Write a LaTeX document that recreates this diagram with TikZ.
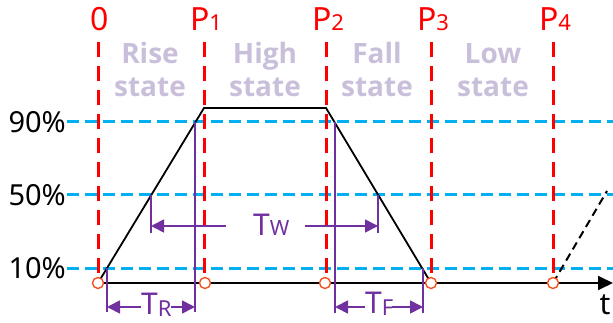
\documentclass[tikz,border=0pt]{standalone}
\usepackage{fontspec}
\setmainfont{Noto Sans}
\newfontfamily\statefont{Open Sans}
\usetikzlibrary{arrows.meta}
\definecolor{redl}{HTML}{FF0000}
\definecolor{bluel}{HTML}{00B0F0}
\definecolor{purp}{HTML}{7030A0}
\definecolor{lpurp}{HTML}{C9BFDA}
\definecolor{circ}{HTML}{F4511E}
\begin{document}
\begin{tikzpicture}[x=1pt,y=-1pt,
 redline/.style={redl, line width=3pt, dash pattern=on 15pt off 9pt},
 blueline/.style={bluel, line width=3pt, dash pattern=on 12pt off 6pt},
 sig/.style={black, line width=1.8pt},
 sigdash/.style={black, line width=2pt, dash pattern=on 8pt off 5pt},
 dim/.style={purp, line width=1.8pt},
 dimarrow/.style={purp, line width=1.8pt, -{Triangle[length=13pt,width=13pt]}},
 ptmark/.style={circle, draw=circ, fill=white, line width=1.4pt, minimum size=11pt, inner sep=0pt},
 plabel/.style={redl, font=\fontsize{32}{32}\selectfont, anchor=base, inner sep=0pt},
 pctlabel/.style={font=\fontsize{29}{29}\selectfont, anchor=east, inner sep=1pt},
 statelabel/.style={lpurp, font=\statefont\bfseries\fontsize{28}{33}\selectfont, align=center, inner sep=0pt},
 tlabel/.style={purp, font=\fontsize{30}{30}\selectfont, inner sep=0pt, anchor=base west}
]
\useasboundingbox (0,0) rectangle (613,323);
\newcommand{\sm}[1]{{\fontsize{22}{22}\selectfont #1}}

% point coordinates
\coordinate (c0) at (98,283);
\coordinate (c1) at (205,283);
\coordinate (c2) at (325,283);
\coordinate (c3) at (431,283);
\coordinate (c4) at (553,283);

% percentage labels and blue dashed lines
\node[pctlabel] (l90) at (67,122) {90\%};
\node[pctlabel] (l50) at (67,195) {50\%};
\node[pctlabel] (l10) at (67,268) {10\%};
\coordinate (e90) at (613,122);
\coordinate (e50) at (613,195);
\coordinate (e10) at (613,268);
\draw[blueline] (l90.east) -- (e90);
\draw[blueline] (l50.east) -- (e50);
\draw[blueline] (l10.east) -- (e10);

% red labels and lines
\node[plabel] (p0) at (100,31) {0};
\node[plabel] (p1) at (206,31) {P\sm{1}};
\node[plabel] (p2) at (328,31) {P\sm{2}};
\node[plabel] (p3) at (433,31) {P\sm{3}};
\node[plabel] (p4) at (555,31) {P\sm{4}};
\coordinate (r0) at (98,42);
\coordinate (r1) at (204,42);
\coordinate (r2) at (326,42);
\coordinate (r3) at (431,42);
\coordinate (r4) at (553,42);
\draw[redline] (r0) -- (r0 |- c0);
\draw[redline] (r1) -- (r1 |- c1);
\draw[redline] (r2) -- (r2 |- c2);
\draw[redline] (r3) -- (r3 |- c3);
\draw[redline] (r4) -- (r4 |- c4);

% state labels
\node[statelabel] (s1) at (150,70) {Rise\\state};
\node[statelabel] (s2) at (265,70) {High\\state};
\node[statelabel] (s3) at (377,70) {Fall\\state};
\node[statelabel] (s4) at (493,70) {Low\\state};

% signal
\coordinate (top1) at (204,108);
\coordinate (top2) at (326,108);
\coordinate (tend) at (613,283);
\coordinate (dend) at (607,191);
\draw[sig, -{Triangle[length=15pt,width=14pt]}] (c0) -- (tend);
\draw[sig, line join=miter] (c0) -- (top1) -- (top2) -- (c3);
\draw[sigdash] (c4) -- (dend);

% points
\node[ptmark] (n0) at (c0) {};
\node[ptmark] (n1) at (c1) {};
\node[ptmark] (n2) at (c2) {};
\node[ptmark] (n3) at (c3) {};
\node[ptmark] (n4) at (c4) {};

% dimension verticals
\coordinate (ra) at (107,268); \coordinate (rb) at (195,122);
\coordinate (wa) at (151,195); \coordinate (wb) at (378,195);
\coordinate (fa) at (335,122); \coordinate (fb) at (423,268);
\draw[dim] (ra) -- ++(0,44);
\draw[dim] (rb) -- ++(0,190);
\draw[dim] (wa) -- ++(0,38);
\draw[dim] (wb) -- ++(0,38);
\draw[dim] (fa) -- ++(0,191);
\draw[dim] (fb) -- ++(0,45);

% TR
\node[tlabel] (tr) at (141,314) {T\raisebox{-2pt}{\sm{R}}};
\coordinate (trl) at (141,307);
\coordinate (trr) at (171,307);
\draw[dimarrow] (trl) -- (trl -| ra);
\draw[dimarrow] (trr) -- (trr -| rb);

% TW
\node[tlabel] (tw) at (253,236) {T{\fontsize{21}{21}\selectfont W}};
\coordinate (twl) at (226,226);
\coordinate (twr) at (305,226);
\draw[dimarrow] (twl) -- (twl -| wa);
\draw[dimarrow] (twr) -- (twr -| wb);

% TF
\node[tlabel] (tf) at (365,313) {T\raisebox{-2pt}{\sm{F}}};
\coordinate (tfl) at (365,307);
\coordinate (tfr) at (392,307);
\draw[dimarrow] (tfl) -- (tfl -| fa);
\draw[dimarrow] (tfr) -- (tfr -| fb);

% t axis label
\node[font=\fontsize{30}{30}\selectfont, anchor=base, inner sep=0pt] (tl) at (605,314) {t};
\end{tikzpicture}
\end{document}
